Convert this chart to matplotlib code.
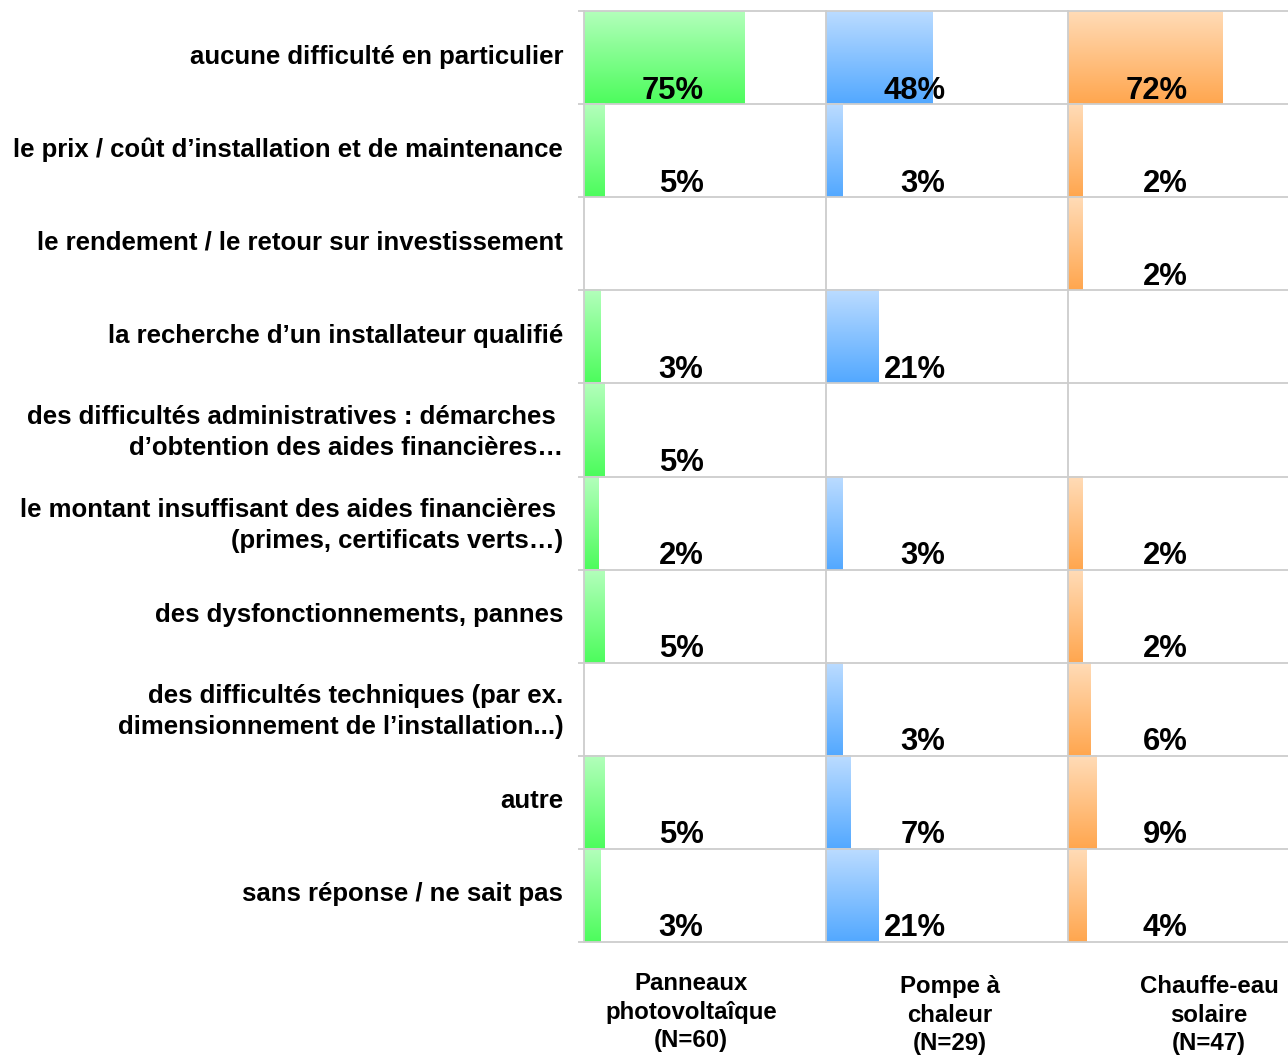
import numpy as np
import matplotlib
matplotlib.use("Agg")
import matplotlib.pyplot as plt
from matplotlib.colors import LinearSegmentedColormap
from matplotlib.transforms import ScaledTranslation

plt.rcParams['font.family'] = ['Liberation Sans', 'DejaVu Sans']

categories = [
    "aucune difficulté en particulier",
    "le prix / coût d’installation et de maintenance",
    "le rendement / le retour sur investissement",
    "la recherche d’un installateur qualifié",
    "des difficultés administratives : démarches \nd’obtention des aides financières…",
    "le montant insuffisant des aides financières \n(primes, certificats verts…)",
    "des dysfonctionnements, pannes",
    "des difficultés techniques (par ex.\ndimensionnement de l’installation...)",
    "autre",
    "sans réponse / ne sait pas",
]
series_names = ["Panneaux\nphotovoltaîque\n(N=60)", "Pompe à\nchaleur\n(N=29)", "Chauffe-eau\nsolaire\n(N=47)"]
pv_values = [75, 5, None, 3, 5, 2, 5, None, 5, 3]
pac_values = [48, 3, None, 21, None, 3, None, 3, 7, 21]
ces_values = [72, 2, 2, None, None, 2, 2, 6, 9, 4]
series_values = [pv_values, pac_values, ces_values]

# gradient colours (top light -> bottom saturated)
grad_colors = [("#b4ffbc", "#4cfc5c"), ("#bcdcff", "#52a8ff"), ("#ffdcb8", "#ffa64e")]

W, H = 1288, 1055
fig = plt.figure(figsize=(W / 100, H / 100), dpi=100)

left_px, top_px, bottom_px, panel_w = 584, 11, 942, 242
offset = 5.5           # bars start slightly left of zero
xmax = 115.5
grid_col = "#cdcdcd"
n = len(categories)
ypos = np.arange(n)

header_x = [691, 950, 1209]
header_y = [1012, 1015, 1015]

grad = np.linspace(0, 1, 256).reshape(-1, 1)

for k, vals in enumerate(series_values):
    ax = fig.add_axes([(left_px + k * panel_w) / W, 1 - bottom_px / H,
                       panel_w / W, (bottom_px - top_px) / H])
    cmap = LinearSegmentedColormap.from_list(f"g{k}", grad_colors[k])
    v = np.array([np.nan if x is None else x for x in vals], dtype=float)
    bars = ax.barh(ypos, v + offset, left=-offset, height=1.0,
                   color="none", edgecolor="none")
    for b, val in zip(bars, v):
        if np.isnan(val):
            continue
        x0, y0, w, h = b.get_x(), b.get_y(), b.get_width(), b.get_height()
        ax.imshow(grad, cmap=cmap, aspect="auto", interpolation="bicubic",
                  extent=(x0, x0 + w, y0 + h, y0), zorder=1)
    for i, val in enumerate(v):
        if np.isnan(val):
            continue
        ax.text(54.3, i + 0.44, f"{int(val)}%", ha="right", va="baseline",
                fontsize=22.3, fontweight="bold", color="black", zorder=3)

    ax.set_xlim(-offset, xmax)
    ax.set_ylim(n - 0.5, -0.5)
    for s in ["top", "right", "bottom"]:
        ax.spines[s].set_visible(False)
    ax.spines["left"].set_color(grid_col)
    ax.spines["left"].set_linewidth(1.3)
    ax.spines["left"].set_zorder(4)
    for yb in np.arange(-0.5, n, 1.0):
        ax.axhline(yb, color=grid_col, lw=1.3, zorder=2, clip_on=False)
    ax.set_xticks([])
    if k == 0:
        ax.set_yticks(ypos)
        ax.set_yticklabels(categories, fontsize=18.5, fontweight="bold",
                           linespacing=1.36)
        ax.tick_params(axis="y", which="major", length=0, pad=15)
        shift = ScaledTranslation(0, 0.035, fig.dpi_scale_trans)
        for lab in ax.get_yticklabels():
            lab.set_transform(lab.get_transform() + shift)
        ax.set_yticks(np.arange(-0.5, n, 1.0), minor=True)
        ax.tick_params(axis="y", which="minor", length=4, color=grid_col, width=1.3)
    else:
        ax.set_yticks([])

    fig.text(header_x[k] / W, 1 - header_y[k] / H, series_names[k],
             ha="center", va="center", fontsize=17.3, fontweight="bold",
             linespacing=1.33)

fig.savefig("out.png", dpi=100)
